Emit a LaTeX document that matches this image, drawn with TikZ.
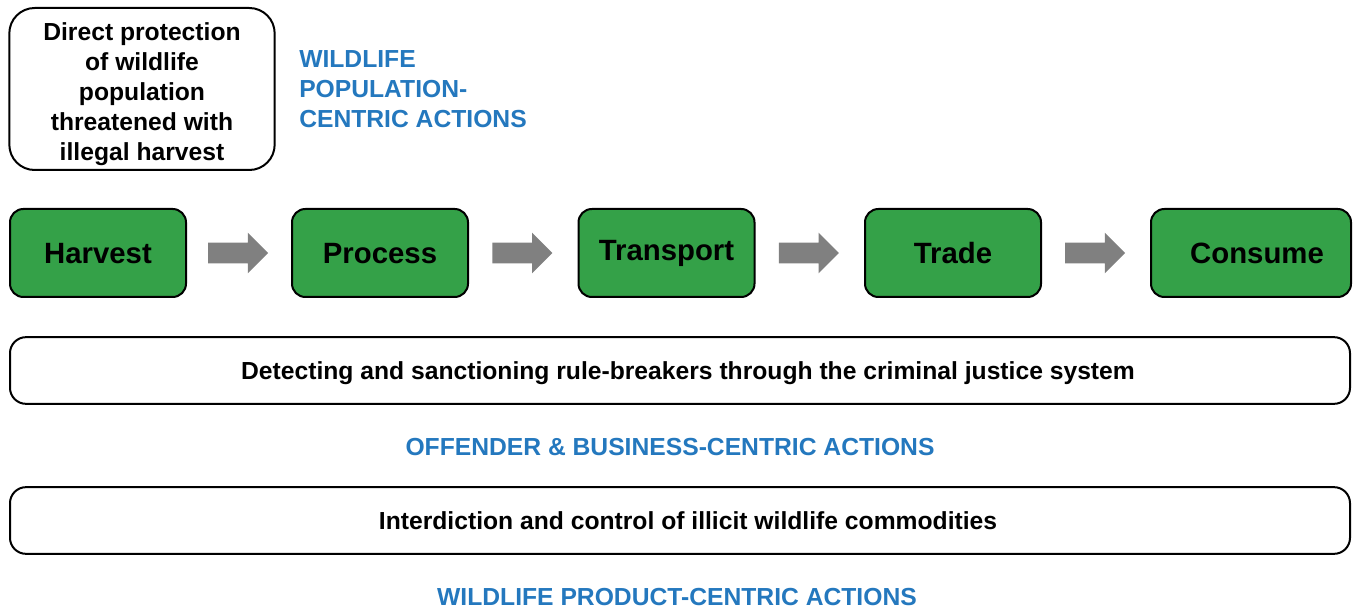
\documentclass[tikz,border=0pt]{standalone}
\usepackage{fontspec}
\setmainfont{Liberation Sans}
\usepackage{tikz}
\usepackage{xcolor}
\tikzset{>=latex}
\usetikzlibrary{calc,shapes.arrows}
\definecolor{stagegreen}{RGB}{52,161,72}
\definecolor{actionblue}{RGB}{36,120,190}
\definecolor{flowgray}{RGB}{128,128,128}

\begin{document}
\begin{tikzpicture}[x=0.75pt, y=-0.75pt,
        stage/.style={draw, line width=1.5pt, fill=stagegreen, rounded corners=10pt,
            minimum width=132pt, minimum height=66pt, inner sep=0pt,
            text height=15.8pt, text depth=0pt,
            font=\fontsize{22}{26}\selectfont\bfseries},
        action/.style={draw, line width=1.5pt, fill=white, rounded corners=12pt,
            minimum width=1005pt, minimum height=50pt, inner sep=0pt,
            text height=13.3pt, text depth=0pt,
            font=\fontsize{18.5}{22.5}\selectfont\bfseries},
        heading/.style={text=actionblue, inner sep=0pt, align=left,
            font=\fontsize{18.5}{22.5}\selectfont\bfseries},
        flow/.style={single arrow, fill=flowgray, draw=none, inner sep=7.5pt,
            minimum height=45pt, single arrow head extend=7.5pt, xshift=-4.5pt}]
        \useasboundingbox (0, 0) rectangle (1354, 609);
        % population-centric box and heading
        \node[draw, line width=1.5pt, rounded corners=19pt, minimum width=199pt,
            minimum height=121.5pt, align=center, inner sep=0pt,
            font=\fontsize{18.5}{22.5}\selectfont\bfseries] (direct) at (142, 89)
            {\rule{0pt}{20.5pt}Direct protection\\of wildlife\\population\\threatened with\\illegal harvest};
        \node[heading, anchor=west] (popcentric) at (299, 89)
            {WILDLIFE\\POPULATION-\\CENTRIC ACTIONS};
        % supply chain stages
        \node[stage] (harvest) at (98, 253) {Harvest};
        \node[stage] (process) at (380, 253) {Process};
        \node[stage, text depth=4.6pt] (transport) at (666.5, 253) {Transport};
        \node[stage] (trade) at (953, 253) {Trade};
        \node[stage, minimum width=150pt] (consume) at (1251, 253) {\hspace*{9pt}Consume};
        \foreach \a/\b [count=\i] in {harvest/process, process/transport, transport/trade, trade/consume}
            \node[flow] (flow\i) at ($(\a.east)!0.5!(\b.west)$) {};
        % offender and product actions
        \node[action] (detecting) at (680, 370.5)
            {\hspace*{12pt}Detecting and sanctioning rule-breakers through the criminal justice system};
        \node[heading] (offcentric) at (670, 447) {OFFENDER \& BUSINESS-CENTRIC ACTIONS};
        \node[action] (interdiction) at (680, 520.5)
            {\hspace*{12pt}Interdiction and control of illicit wildlife commodities};
        \node[heading] (prodcentric) at (677, 597) {WILDLIFE PRODUCT-CENTRIC ACTIONS};
      \end{tikzpicture}
\end{document}
